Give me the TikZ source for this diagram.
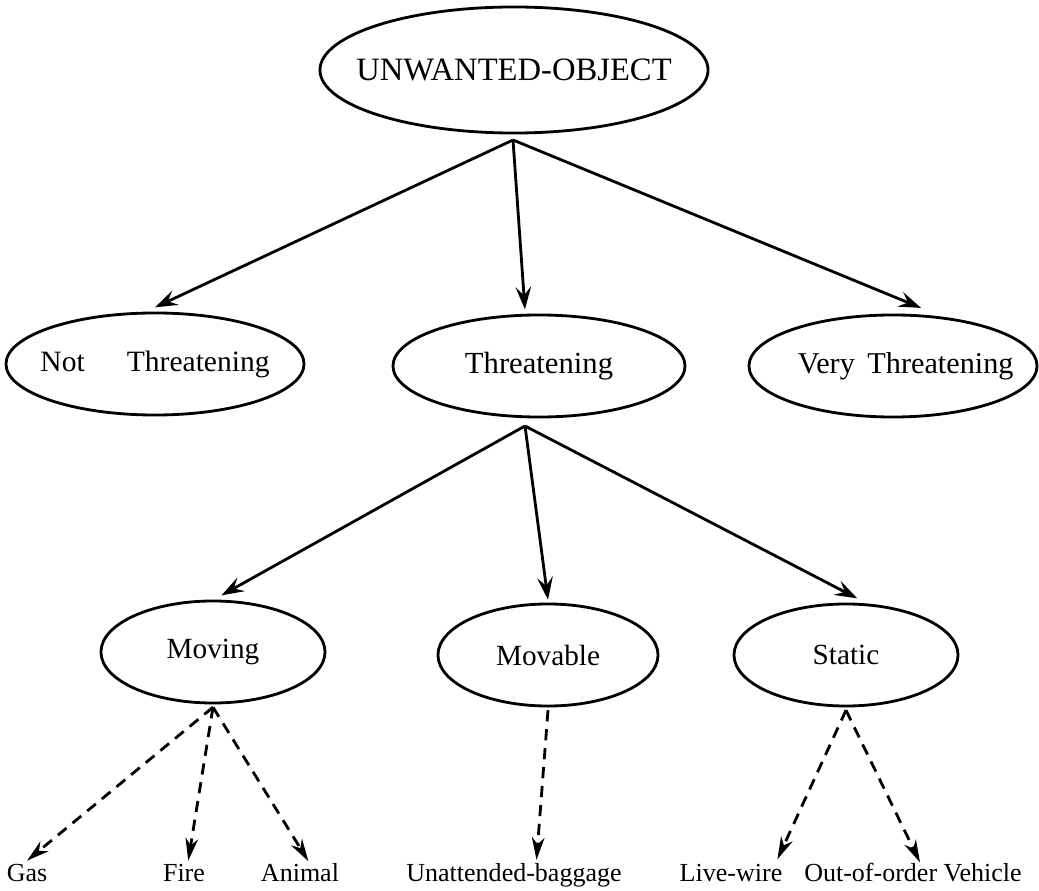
\documentclass[tikz,border=0pt]{standalone}
\usepackage{fontspec}
\setmainfont{Liberation Serif}
\usetikzlibrary{shapes.geometric,arrows.meta}
\newcommand{\centred}[1]{\makebox[0pt]{#1}}
\begin{document}
\begin{tikzpicture}[x=0.025cm,y=-0.025cm,
    class/.style={draw,ellipse,line width=2pt,inner sep=0pt,minimum height=2.55cm},
    leaf/.style={anchor=base,inner sep=0pt,font=\fontsize{18.5}{20}\selectfont},
    isa/.style={line width=2pt,-{Stealth[length=16pt,width=11pt,inset=6pt]}},
    kind/.style={line width=2pt,dash pattern=on 8pt off 5.5pt,-{Stealth[open,length=16pt,width=9pt,inset=5pt]}}]
    \useasboundingbox (0,0) rectangle (1039,891);
    %
    \node[class,minimum width=9.7cm,minimum height=3.15cm,font=\fontsize{23.2}{26}\selectfont] (uo) at (514,70) {\centred{UNWANTED-OBJECT}};
    \coordinate (uo-fork) at (513,140);
    %
    \node[class,minimum width=7.45cm,font=\fontsize{21}{24}\selectfont] (nt) at (155,364) {\centred{Not\hspace{30pt}Threatening}};
    \node[class,minimum width=7.3cm,font=\fontsize{21.8}{24}\selectfont] (th) at (539,366) {\centred{Threatening}};
    \node[class,minimum width=7.2cm,font=\fontsize{21.5}{24}\selectfont] (vt) at (893,366) {\centred{\hspace*{18pt}Very\hspace{9pt}Threatening}};
    \coordinate (th-fork) at (525,426);
    %
    \node[class,minimum width=5.6cm,font=\fontsize{20.8}{24}\selectfont] (mv) at (213,652) {\centred{Moving}};
    \node[class,minimum width=5.5cm,font=\fontsize{20.8}{24}\selectfont] (ma) at (548,655) {\centred{Movable}};
    \node[class,minimum width=5.6cm,font=\fontsize{20.8}{24}\selectfont] (st) at (846,655) {\centred{Static}};
    %
    \node[leaf] (gas) at (27,881) {Gas};
    \node[leaf] (fire) at (184,881) {Fire};
    \node[leaf] (animal) at (300,881) {Animal};
    \node[leaf] (bag) at (514,881) {Unattended-baggage};
    \node[leaf] (wire) at (731,881) {Live-wire};
    \node[leaf] (vehicle) at (913,881) {Out-of-order Vehicle};
    %
    \draw[isa] (uo-fork) -- ([yshift=3pt]nt.north);
    \draw[isa] (uo-fork) -- ([xshift=-10pt,yshift=3pt]th.north);
    \draw[isa] (uo-fork) -- ([xshift=20pt,yshift=4pt]vt.north);
    %
    \draw[isa] (th-fork) -- ([xshift=6pt,yshift=3pt]mv.north);
    \draw[isa] (th-fork) -- ([yshift=2pt]ma.north);
    \draw[isa] (th-fork) -- ([xshift=8pt,yshift=3pt]st.north);
    %
    \draw[kind] ([yshift=-2pt]mv.south) -- ([yshift=2pt]gas.north);
    \draw[kind] ([yshift=-2pt]mv.south) -- ([xshift=3pt,yshift=2pt]fire.north);
    \draw[kind] ([yshift=-2pt]mv.south) -- ([xshift=6pt,yshift=1pt]animal.north);
    \draw[kind] ([yshift=-2pt]ma.south) -- ([xshift=16pt,yshift=2pt]bag.north);
    \draw[kind] ([yshift=-2pt]st.south) -- ([xshift=33pt,yshift=3pt]wire.north);
    \draw[kind] ([yshift=-2pt]st.south) -- ([xshift=5pt]vehicle.north);
\end{tikzpicture}
\end{document}
